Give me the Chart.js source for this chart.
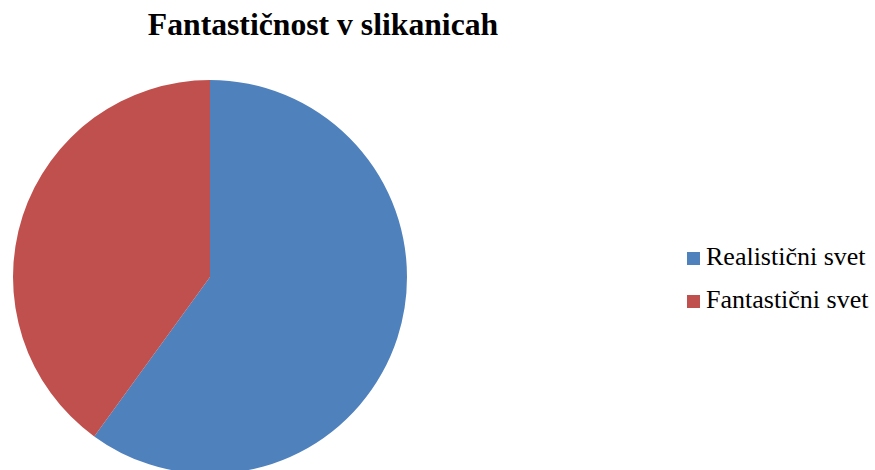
<!DOCTYPE html>
<html>
<head>
<meta charset="utf-8">
<script src="https://cdn.jsdelivr.net/npm/chart.js@4/dist/chart.umd.min.js"></script>
<style>
    html, body { margin: 0; padding: 0; background: #fff; width: 875px; height: 470px; overflow: hidden; }
    body { position: relative; font-family: "Liberation Serif", "Times New Roman", serif; }
    #title { position: absolute; left: 0; top: 7px; width: 646px; text-align: center; font-weight: bold; font-size: 31.7px; color: #000; white-space: nowrap; }
    #pieBox { position: absolute; left: 13px; top: 80px; width: 394px; height: 394px; }
    #legend { position: absolute; left: 687px; top: 244px; font-size: 26px; line-height: 25px; color: #000; }
    .legend-item { position: relative; height: 43px; white-space: nowrap; }
    .legend-box { position: absolute; left: 0; top: 8px; width: 13px; height: 13px; }
    .legend-text { position: absolute; left: 19px; top: 0; }
</style>
</head>
<body>
<div id="title"></div>
<div id="pieBox"><canvas id="pieChart" width="394" height="394"></canvas></div>
<div id="legend"></div>
<script>
const chartTitle = 'Fantastičnost v slikanicah';
const labels = ['Realistični svet', 'Fantastični svet'];
const values = [60, 40];
const colors = ['#4F81BD', '#C0504D'];

document.getElementById('title').textContent = chartTitle;

// legenda desno
document.getElementById('legend').innerHTML = labels.map((name, i) => `
    <div class="legend-item">
        <span class="legend-box" style="background: ${colors[i]};"></span>
        <span class="legend-text">${name}</span>
    </div>
`).join('');

const ctx = document.getElementById('pieChart').getContext('2d');
new Chart(ctx, {
    type: 'pie',
    data: {
        labels,
        datasets: [{
            data: values,
            backgroundColor: colors,
            borderWidth: 0
        }]
    },
    options: {
        responsive: false,
        animation: false,
        layout: { padding: 0 },
        plugins: {
            legend: { display: false },
            tooltip: { enabled: false }
        }
    }
});
</script>
</body>
</html>
